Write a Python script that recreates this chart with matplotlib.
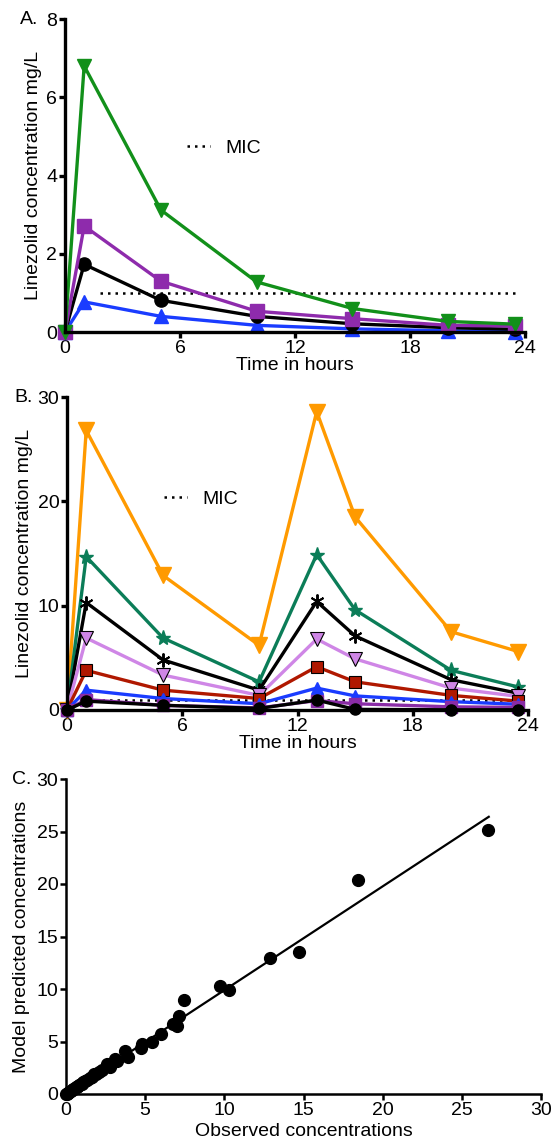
import numpy as np
import matplotlib
matplotlib.use("Agg")
import matplotlib.pyplot as plt
from matplotlib.lines import Line2D

plt.rcParams['font.family'] = ['Liberation Sans', 'DejaVu Sans']
plt.rcParams['font.size'] = 14

# Panel A: single dose profiles
times_a = [0, 1, 5, 10, 15, 20, 23.5]
green_a = [0, 6.8, 3.12, 1.28, 0.6, 0.27, 0.2]
purple_a = [0, 2.71, 1.3, 0.53, 0.34, 0.17, 0.15]
black_a = [0, 1.73, 0.81, 0.4, 0.21, 0.11, 0.07]
blue_a = [0, 0.77, 0.4, 0.17, 0.08, 0.03, 0.01]

# Panel B: twice daily profiles
times_b = [0, 1, 5, 10, 13, 15, 20, 23.5]
orange_b = [0, 26.8, 12.9, 6.2, 28.6, 18.5, 7.5, 5.6]
green_b = [0, 14.7, 6.9, 2.7, 14.9, 9.6, 3.8, 2.2]
aster_b = [0, 10.3, 4.8, 1.9, 10.4, 7.1, 2.9, 1.6]
lilac_b = [0, 6.9, 3.35, 1.4, 6.8, 4.9, 2.1, 1.3]
red_b = [0, 3.8, 1.9, 1.1, 4.15, 2.7, 1.4, 0.85]
blue_b = [0, 1.9, 1.1, 0.6, 2.1, 1.35, 0.8, 0.55]
purple_b = [0, 1.0, 0.45, 0.2, 0.9, 0.6, 0.3, 0.25]
black_b = [0, 0.85, 0.45, 0.15, 0.95, 0.06, 0.02, 0.02]

mic = 1.0
mic_x = [1.8, 23.5]

# Panel C: observed vs model predicted
observed = [0, 0.05, 0.1, 0.15, 0.22, 0.3, 0.38, 0.44, 0.52, 0.6, 0.67, 0.75,
            0.85, 0.95, 1.0, 1.1, 1.22, 1.35, 1.5, 1.67, 1.78, 1.9, 2.11, 2.3,
            2.56, 2.78, 3.11, 3.2, 3.71, 3.89, 4.73, 4.78, 5.44, 6.0, 6.78,
            7.0, 7.16, 7.44, 9.71, 10.29, 12.89, 14.71, 18.44, 26.67]
predicted = [0, 0.04, 0.12, 0.14, 0.16, 0.32, 0.36, 0.47, 0.5, 0.62, 0.63, 0.8,
             0.82, 0.98, 0.95, 1.15, 1.26, 1.3, 1.55, 1.58, 1.9, 1.95, 2.05, 2.3,
             2.84, 2.53, 3.32, 3.1, 4.1, 3.54, 4.42, 4.74, 4.96, 5.68, 6.63,
             6.47, 7.42, 8.94, 10.26, 9.95, 12.95, 13.51, 20.37, 25.1]
fit_x = [0, 26.7]
fit_y = [0, 26.4]

W, H = 554, 1148
fig = plt.figure(figsize=(W / 100, H / 100), dpi=100)


def px_axes(x0, y0, x1, y1):
    return fig.add_axes([x0 / W, 1 - y1 / H, (x1 - x0) / W, (y1 - y0) / H])


def style(ax, lw):
    for s in ['top', 'right']:
        ax.spines[s].set_visible(False)
    for s in ['left', 'bottom']:
        ax.spines[s].set_linewidth(lw)
    ax.tick_params(direction='out', length=4, width=lw, pad=1.5)


def mic_legend(ax, x, y):
    h = Line2D([], [], color='black', lw=1.8, linestyle=(0, (1, 2)))
    ax.legend(handles=[h], labels=['MIC'], loc='center left',
              bbox_to_anchor=(x, y), frameon=False, handlelength=1.2,
              handletextpad=0.8, borderaxespad=0, borderpad=0)


# ---- A ----
ax = px_axes(65, 19, 525, 332)
style(ax, 2.4)
ax.plot(mic_x, [mic, mic], color='black', lw=1.8, linestyle=(0, (1, 2)))
kw = dict(lw=2.4, clip_on=False)
ax.plot(times_a, blue_a, color='#1a3cff', marker='^', ms=9.5, **kw)
ax.plot(times_a, black_a, color='black', marker='o', ms=9.5, **kw)
ax.plot(times_a, purple_a, color='#8e2bac', marker='s', ms=9.5, **kw)
ax.plot(times_a, green_a, color='#12901a', marker='v', ms=10.5, **kw)
ax.set_xlim(0, 24)
ax.set_ylim(0, 8)
ax.set_xticks([0, 6, 12, 18, 24])
ax.set_yticks([0, 2, 4, 6, 8])
ax.set_xlabel('Time in hours', labelpad=0)
ax.set_ylabel('Linezolid concentration mg/L', labelpad=3)
mic_legend(ax, 0.265, 0.588)
fig.text(20 / W, 1 - 20 / H, 'A.', va='center', ha='left')

# ---- B ----
ax = px_axes(67, 397, 528, 710)
style(ax, 2.4)
ax.plot(mic_x, [mic, mic], color='black', lw=1.8, linestyle=(0, (1, 2)))
kw = dict(lw=2.4, clip_on=False)
ax.plot(times_b, orange_b, color='#ff9a00', marker='v', ms=11, **kw)
ax.plot(times_b, green_b, color='#0b7d58', marker='*', ms=11, **kw)
ax.plot(times_b, aster_b, color='black', marker=(6, 2, 0), ms=10, mew=1.4, **kw)
ax.plot(times_b, lilac_b, color='#cf86e6', marker='v', ms=10,
        mec='black', mew=0.8, **kw)
ax.plot(times_b, red_b, color='#b01800', marker='s', ms=9,
        mec='black', mew=0.8, **kw)
ax.plot(times_b, blue_b, color='#1a3cff', marker='^', ms=8, **kw)
ax.plot(times_b, purple_b, color='#8a2ca6', marker='s', ms=8, **kw)
ax.plot(times_b, black_b, color='black', marker='o', ms=8, **kw)
ax.set_xlim(0, 24)
ax.set_ylim(0, 30)
ax.set_xticks([0, 6, 12, 18, 24])
ax.set_yticks([0, 10, 20, 30])
ax.set_xlabel('Time in hours', labelpad=0)
ax.set_ylabel('Linezolid concentration mg/L', labelpad=3)
mic_legend(ax, 0.21, 0.674)
fig.text(14 / W, 1 - 397 / H, 'B.', va='center', ha='left')

# ---- C ----
ax = px_axes(66, 779, 541, 1094)
style(ax, 1.8)
ax.plot(fit_x, fit_y, color='black', lw=1.6)
ax.plot(observed, predicted, 'o', color='black', ms=8.5, clip_on=False)
ax.set_xlim(0, 30)
ax.set_ylim(0, 30)
ax.set_xticks(range(0, 31, 5))
ax.set_yticks(range(0, 31, 5))
ax.set_xlabel('Observed concentrations', labelpad=3)
ax.set_ylabel('Model predicted concentrations', labelpad=5)
fig.text(12 / W, 1 - 779 / H, 'C.', va='center', ha='left')

fig.savefig('out.png', dpi=100)
